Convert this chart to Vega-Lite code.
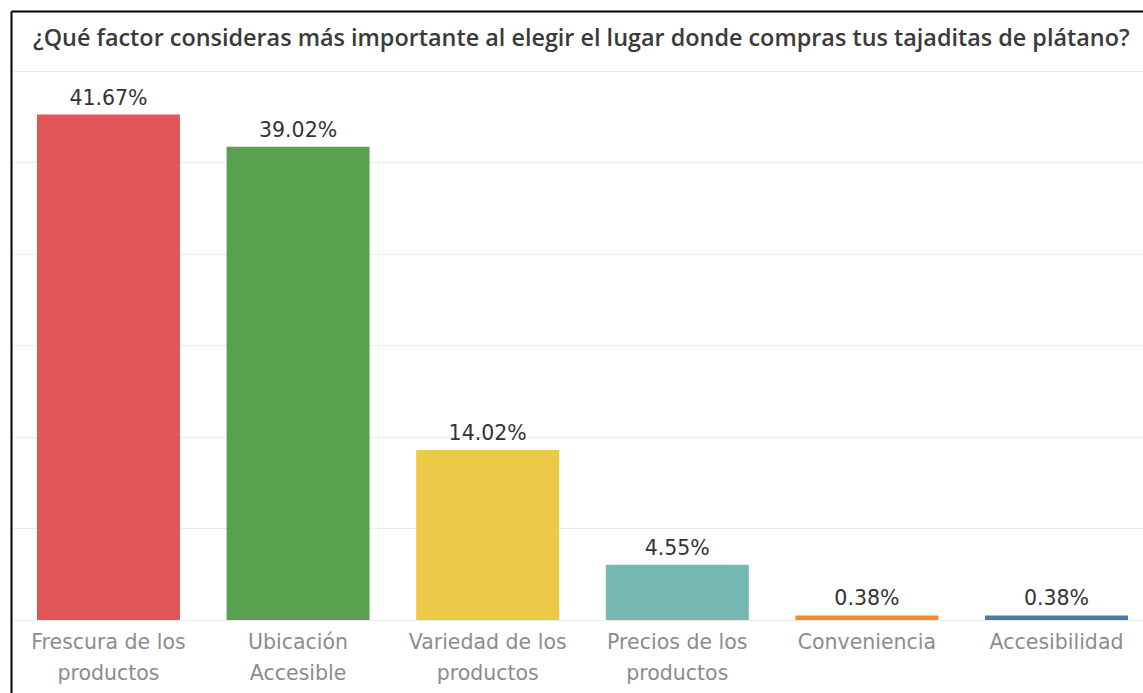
{
  "$schema": "https://vega.github.io/schema/vega-lite/v6.json",
  "autosize": "none",
  "padding": {"left": 11, "top": 11, "right": 0, "bottom": 0},
  "width": 1132,
  "height": 682,
  "background": "white",
  "title": {
    "text": "¿Qué factor consideras más importante al elegir el lugar donde compras tus tajaditas de plátano?",
    "anchor": "start",
    "frame": "group",
    "orient": "top",
    "baseline": "alphabetic",
    "offset": -58,
    "dx": 22,
    "font": "Open Sans",
    "fontSize": 23.4,
    "fontWeight": 600,
    "color": "#3a3a3a"
  },
  "data": {
    "values": [
      {"factor": "Frescura de los productos", "label": "Frescura de los\nproductos", "value": 0.4167},
      {"factor": "Ubicación Accesible", "label": "Ubicación\nAccesible", "value": 0.3902},
      {"factor": "Variedad de los productos", "label": "Variedad de los\nproductos", "value": 0.1402},
      {"factor": "Precios de los productos", "label": "Precios de los\nproductos", "value": 0.0455},
      {"factor": "Conveniencia", "label": "Conveniencia", "value": 0.0038},
      {"factor": "Accesibilidad", "label": "Accesibilidad", "value": 0.0038}
    ]
  },
  "encoding": {
    "x": {
      "field": "factor",
      "type": "nominal",
      "sort": null,
      "scale": {"paddingInner": 0.2458, "paddingOuter": 0.108, "align": 0.634},
      "axis": {
        "orient": "top",
        "title": null,
        "labels": false,
        "ticks": false,
        "grid": false,
        "domain": true,
        "domainColor": "#000000",
        "domainWidth": 2
      }
    }
  },
  "layer": [
    {
      "mark": {"type": "bar"},
      "encoding": {
        "y": {
          "field": "value",
          "type": "quantitative",
          "scale": {"domain": [-0.0602, 0.5021], "nice": false, "zero": false},
          "axis": {
            "orient": "left",
            "title": null,
            "labels": false,
            "ticks": false,
            "domain": true,
            "domainColor": "#000000",
            "domainWidth": 2,
            "grid": true,
            "gridColor": "#ebebeb",
            "gridWidth": 1,
            "values": [0, 0.0755, 0.151, 0.2265, 0.302, 0.3775, 0.453]
          }
        },
        "color": {
          "field": "factor",
          "type": "nominal",
          "sort": null,
          "scale": {
            "domain": ["Frescura de los productos", "Ubicación Accesible", "Variedad de los productos", "Precios de los productos", "Conveniencia", "Accesibilidad"],
            "range": ["#e15759", "#59a14f", "#edc948", "#76b7b2", "#f28e2b", "#4e79a7"]
          },
          "legend": null
        }
      }
    },
    {
      "mark": {"type": "text", "baseline": "alphabetic", "dy": -10, "font": "DejaVu Sans", "fontSize": 20.5, "color": "#333333"},
      "encoding": {
        "y": {"field": "value", "type": "quantitative"},
        "text": {"field": "value", "type": "quantitative", "format": ".2%"}
      }
    },
    {
      "mark": {"type": "text", "baseline": "alphabetic", "lineBreak": "\n", "lineHeight": 31, "font": "DejaVu Sans", "fontSize": 20.5, "color": "#8c8c8c"},
      "encoding": {
        "y": {"datum": -0.0239},
        "text": {"field": "label"}
      }
    }
  ],
  "config": {
    "view": {"stroke": null}
  }
}
